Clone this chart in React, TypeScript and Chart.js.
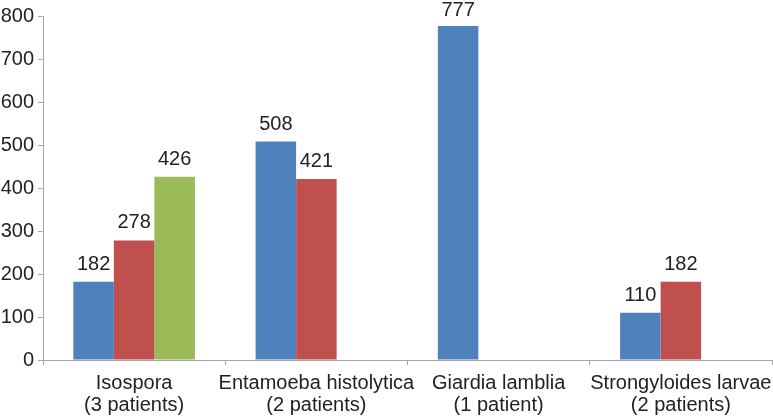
import React, { useEffect, useRef } from "react";
import { Chart, registerables } from "chart.js";

Chart.register(...registerables);

const categories: string[][] = [
  ["Isospora", "(3 patients)"],
  ["Entamoeba histolytica", "(2 patients)"],
  ["Giardia lamblia", "(1 patient)"],
  ["Strongyloides larvae", "(2 patients)"],
];
const series1: (number | null)[] = [182, 508, 777, 110];
const series2: (number | null)[] = [278, 421, null, 182];
const series3: (number | null)[] = [426, null, null, null];
const yTicks = { min: 0, max: 800, step: 100 };

const FONT = "'Liberation Sans', Arial, sans-serif";
const TEXT = "#222222";
const AXIS = "#a6a6a6";

const valueLabels = {
  id: "valueLabels",
  afterDatasetsDraw(chart: any) {
    const ctx = chart.ctx;
    ctx.save();
    ctx.font = `20px ${FONT}`;
    ctx.fillStyle = TEXT;
    ctx.textAlign = "center";
    ctx.textBaseline = "alphabetic";
    chart.data.datasets.forEach((ds: any, i: number) => {
      const meta = chart.getDatasetMeta(i);
      meta.data.forEach((bar: any, j: number) => {
        const v = ds.data[j];
        if (v === null || v === undefined) return;
        const y = Math.max(bar.y - 12, 16);
        ctx.fillText(String(v), bar.x, y);
      });
    });
    ctx.restore();
  },
};

export default function App() {
  const ref = useRef<HTMLCanvasElement>(null);
  useEffect(() => {
    if (!ref.current) return;
    const chart = new Chart(ref.current, {
      type: "bar",
      data: {
        labels: categories,
        datasets: [
          { data: series1, backgroundColor: "#4f81bd", borderWidth: 0 },
          { data: series2, backgroundColor: "#c0504d", borderWidth: 0 },
          { data: series3, backgroundColor: "#9bbb59", borderWidth: 0 },
        ],
      },
      options: {
        animation: false,
        responsive: true,
        maintainAspectRatio: false,
        layout: { padding: { top: 14, right: 1, left: 0, bottom: 0 } },
        plugins: {
          legend: { display: false },
          tooltip: { enabled: false },
        },
        datasets: {
          bar: { categoryPercentage: 0.667, barPercentage: 1 },
        },
        scales: {
          x: {
            grid: {
              drawOnChartArea: false,
              drawTicks: true,
              tickLength: 5,
              color: AXIS,
              offset: true,
            },
            border: { color: AXIS, width: 1 },
            ticks: {
              font: { family: FONT, size: 20, lineHeight: 1.1 },
              color: TEXT,
              padding: 7,
              maxRotation: 0,
              autoSkip: false,
            },
            afterFit(scale: any) {
              scale.height = 58;
              scale.paddingLeft = 0;
              scale.paddingRight = 0;
            },
          },
          y: {
            min: yTicks.min,
            max: yTicks.max,
            grid: {
              drawOnChartArea: false,
              drawTicks: true,
              tickLength: 5,
              color: AXIS,
            },
            border: { color: AXIS, width: 1 },
            ticks: {
              stepSize: yTicks.step,
              font: { family: FONT, size: 20 },
              color: TEXT,
              padding: 4,
            },
            afterFit(scale: any) {
              scale.width = 43;
            },
          },
        },
      },
      plugins: [valueLabels],
    });
    return () => chart.destroy();
  }, []);
  return (
    <div style={{ position: "absolute", left: 0, top: 0, width: 773, height: 418, background: "#fff" }}>
      <canvas ref={ref} />
    </div>
  );
}
